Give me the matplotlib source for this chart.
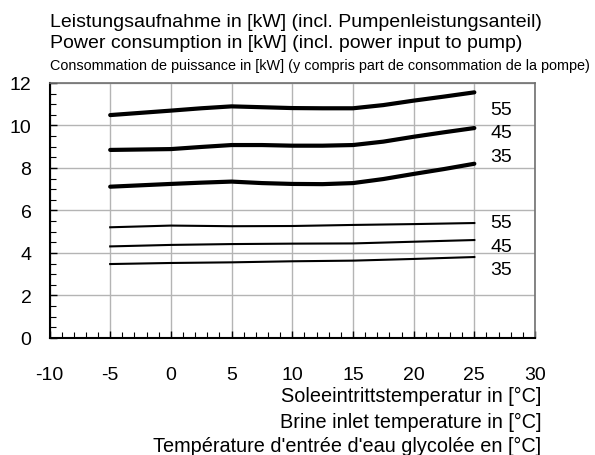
import matplotlib
matplotlib.use("Agg")
import matplotlib.pyplot as plt
from matplotlib.ticker import MultipleLocator

plt.rcParams['font.family'] = ['Liberation Sans', 'DejaVu Sans']
plt.rcParams['axes.unicode_minus'] = False

# brine inlet temperature [°C]
temp_fine = [-5, 0, 2.5, 5, 7.5, 10, 12.5, 15, 17.5, 20, 22.5, 25]
temp = [-5, 0, 5, 10, 15, 20, 25]

# power consumption [kW], upper set (thick, read every 2.5 K on the curved part)
upper_55 = [10.49, 10.70, 10.81, 10.90, 10.86, 10.82, 10.81, 10.81, 10.96, 11.17, 11.36, 11.56]
upper_45 = [8.85, 8.89, 8.99, 9.08, 9.08, 9.05, 9.05, 9.08, 9.24, 9.47, 9.68, 9.88]
upper_35 = [7.12, 7.25, 7.31, 7.36, 7.29, 7.25, 7.24, 7.29, 7.48, 7.72, 7.95, 8.20]
# lower set (thin)
lower_55 = [5.21, 5.29, 5.26, 5.27, 5.32, 5.36, 5.41]
lower_45 = [4.31, 4.38, 4.42, 4.44, 4.45, 4.53, 4.61]
lower_35 = [3.48, 3.53, 3.56, 3.61, 3.64, 3.72, 3.81]

labels = ["55", "45", "35"]
label_y_upper = [10.75, 9.65, 8.52]
label_y_lower = [5.44, 4.29, 3.20]

fig = plt.figure(figsize=(5.95, 4.56), dpi=100)
ax = fig.add_axes([0.0832, 0.2566, 0.8160, 0.5592])

for ys in (upper_55, upper_45, upper_35):
    ax.plot(temp_fine, ys, color='black', lw=3.0,
            solid_capstyle='round', solid_joinstyle='round')
for ys in (lower_55, lower_45, lower_35):
    ax.plot(temp, ys, color='black', lw=1.5, solid_joinstyle='round')

for lab, y in zip(labels, label_y_upper):
    ax.text(26.3, y, lab, fontsize=14, va='center', ha='left')
for lab, y in zip(labels, label_y_lower):
    ax.text(26.3, y, lab, fontsize=14, va='center', ha='left')

ax.set_xlim(-10, 30)
ax.set_ylim(0, 12)
ax.xaxis.set_major_locator(MultipleLocator(5))
ax.xaxis.set_minor_locator(MultipleLocator(1))
ax.yaxis.set_major_locator(MultipleLocator(2))
ax.yaxis.set_minor_locator(MultipleLocator(0.5))
ax.grid(True, which='major', color='#b4b4b4', lw=1.0)
ax.set_axisbelow(True)
ax.tick_params(which='both', direction='in', top=False, right=False)
ax.tick_params(which='major', length=5, width=1.0, labelsize=14)
ax.tick_params(which='minor', length=4, width=0.8)
ax.tick_params(axis='x', which='major', pad=20)
ax.tick_params(axis='y', which='major', pad=13)
for s in ('left', 'bottom'):
    ax.spines[s].set_linewidth(1.5)
    ax.spines[s].set_color('black')
for s in ('top', 'right'):
    ax.spines[s].set_linewidth(1.2)
    ax.spines[s].set_color('#707070')

fig.text(50 / 595, 1 - 27 / 456, "Leistungsaufnahme in [kW] (incl. Pumpenleistungsanteil)",
         fontsize=14, va='baseline', ha='left')
fig.text(50 / 595, 1 - 48 / 456, "Power consumption in [kW] (incl. power input to pump)",
         fontsize=14, va='baseline', ha='left')
fig.text(50 / 595, 1 - 70 / 456,
         "Consommation de puissance in [kW] (y compris part de consommation de la pompe)",
         fontsize=10.4, va='baseline', ha='left')

fig.text(541 / 595, 1 - 402.5 / 456, "Soleeintrittstemperatur in [°C]",
         fontsize=14.3, va='baseline', ha='right')
fig.text(541 / 595, 1 - 428 / 456, "Brine inlet temperature in [°C]",
         fontsize=14.3, va='baseline', ha='right')
fig.text(541 / 595, 1 - 452 / 456, "Température d'entrée d'eau glycolée en [°C]",
         fontsize=14.3, va='baseline', ha='right')

fig.savefig("out.png", dpi=100)
